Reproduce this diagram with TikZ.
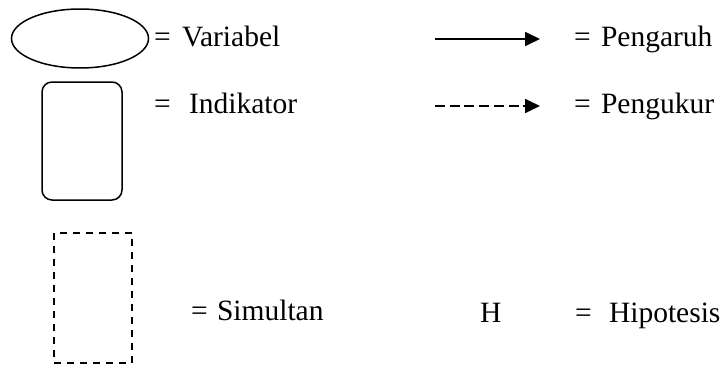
\documentclass[tikz,border=0pt]{standalone}
\usepackage{fontspec}
\setmainfont{Liberation Serif}
\usetikzlibrary{arrows.meta}
\begin{document}
\begin{tikzpicture}[x=1pt,y=-1pt,
  lbl/.style={anchor=base west,inner sep=0pt,outer sep=0pt,font=\fontsize{29.5}{32}\selectfont},
  shapeline/.style={draw=black,line width=1.5pt},
  legarrow/.style={line width=1.8pt,-{Triangle[length=15pt,width=14pt]}}]
\useasboundingbox (0,0) rectangle (725,367);
% shapes
\draw[shapeline] (80,38.5) ellipse [x radius=68.5, y radius=29.5];
\draw[shapeline,rounded corners=10pt] (42,82) rectangle (122,200);
\draw[draw=black,line width=1.2pt,dash pattern=on 7pt off 6pt] (54,233) rectangle (132,363);
% arrows
\coordinate (a1s) at (435,39);
\coordinate (a1e) at (540,39);
\coordinate (a2s) at (435,106);
\coordinate (a2e) at (540,106);
\draw[legarrow] (a1s) -- (a1e);
\draw[legarrow,dash pattern=on 10pt off 4.7pt] (a2s) -- (a2e);
% labels
\node[lbl] (eqv) at (154,46) {=};
\node[lbl] (var) at (182,46) {Variabel};
\node[lbl] (eqi) at (154,113) {=};
\node[lbl] (ind) at (189,113) {Indikator};
\node[lbl] (eqp) at (574,46) {=};
\node[lbl] (pen) at (601,46) {Pengaruh};
\node[lbl] (equ) at (574,113) {=};
\node[lbl] (peu) at (601,113) {Pengukur};
\node[lbl] (eqs) at (191,320) {=};
\node[lbl] (sim) at (217,320) {Simultan};
\node[lbl] (h) at (480,322) {H};
\node[lbl] (eqh) at (575,322) {=};
\node[lbl] (hip) at (609,322) {Hipotesis};
\end{tikzpicture}
\end{document}
